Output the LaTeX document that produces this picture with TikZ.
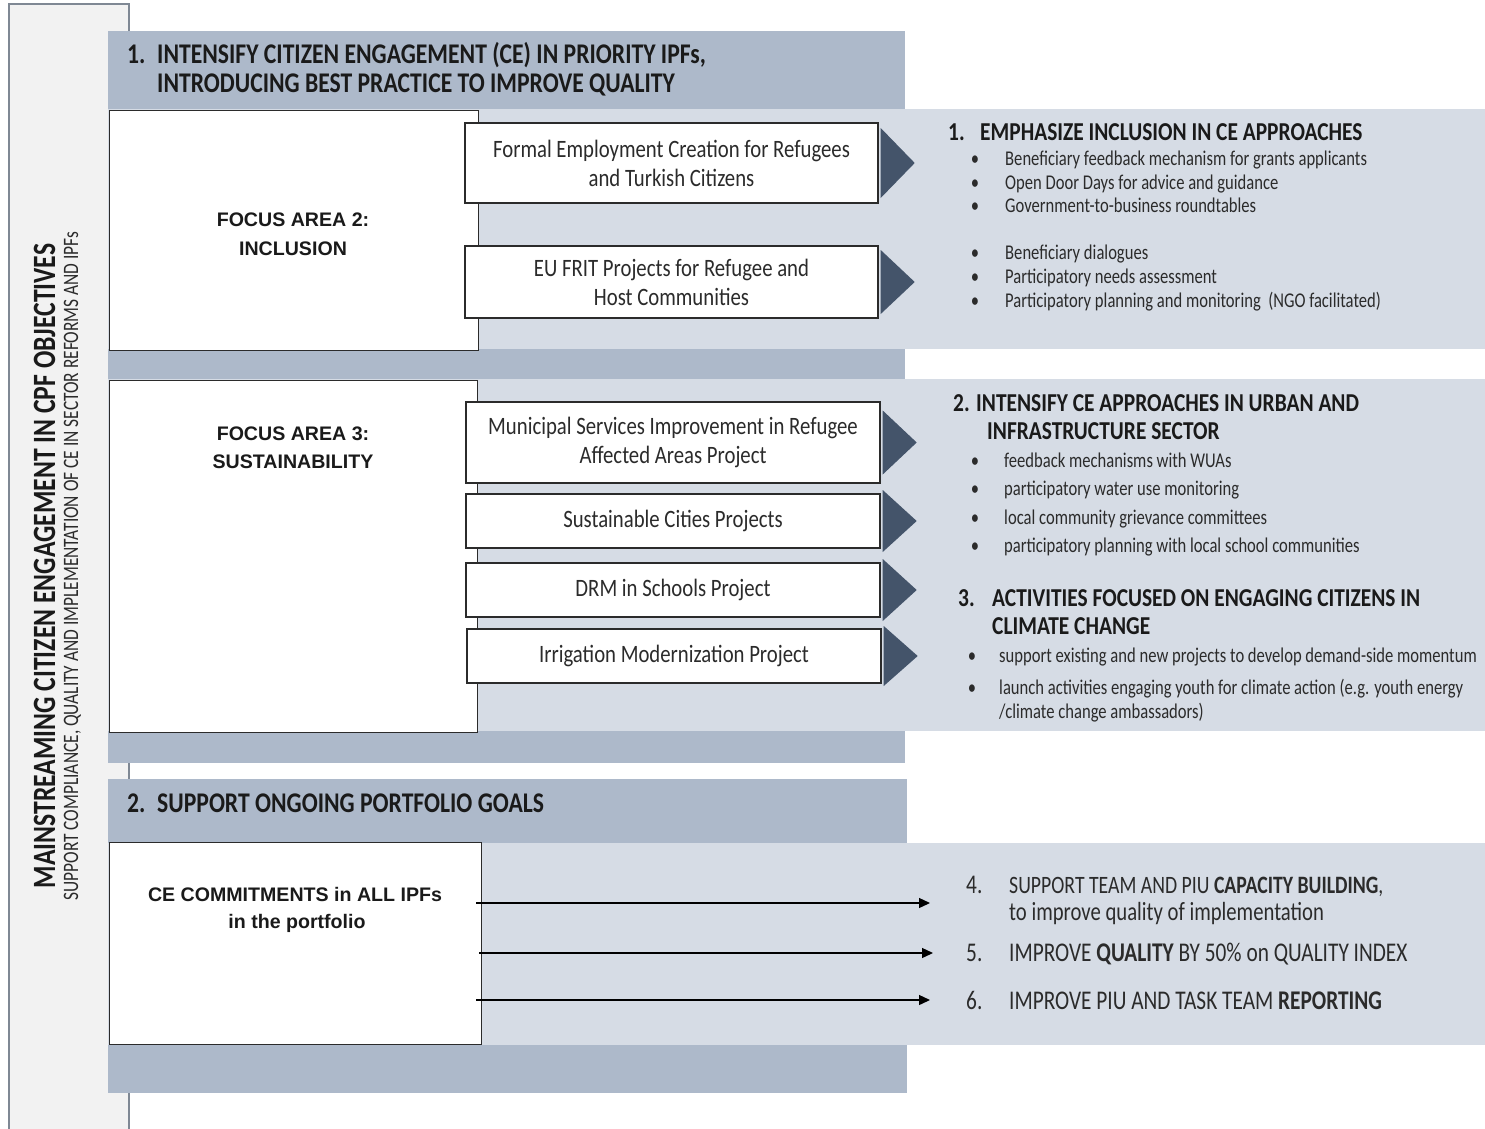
\documentclass[tikz,border=0pt]{standalone}
\usepackage{fontspec}
\usetikzlibrary{arrows.meta,calc}
\setmainfont{Carlito}
\newfontfamily\fA[FakeStretch=0.83]{Carlito}
\newfontfamily\fB[FakeStretch=0.79]{Carlito}
\newfontfamily\fAr{Liberation Sans}
\definecolor{dband}{HTML}{ADB9CA}
\definecolor{lband}{HTML}{D6DCE5}
\definecolor{tri}{HTML}{44546A}
\definecolor{barfill}{HTML}{F2F2F2}
\definecolor{barline}{HTML}{7F8894}
\definecolor{ink}{HTML}{1A1A1A}
\definecolor{ink2}{HTML}{2B2B2B}
\tikzset{
  hdr/.style={font=\fA\bfseries\fontsize{28.5}{29}\selectfont, text=ink, inner sep=0pt, anchor=base west},
  pbox/.style={draw=ink2, line width=1.4pt, fill=white, align=center, text=ink2,
    font=\fA\fontsize{25}{29}\selectfont, inner sep=0pt},
  wbox/.style={draw=ink2, line width=1.4pt, fill=white, inner sep=0pt, anchor=north west},
  fa/.style={font=\fAr\bfseries\fontsize{19.6}{28}\selectfont, text=ink, inner sep=0pt, anchor=base},
  rh/.style={font=\fA\bfseries\fontsize{25.8}{28}\selectfont, text=ink, inner sep=0pt, anchor=base west},
  bt/.style={font=\fB\fontsize{21}{24}\selectfont, text=ink2, inner sep=0pt, anchor=base west},
  bi/.style={font=\fB\fontsize{27}{27}\selectfont, text=ink2, inner sep=0pt, anchor=base west},
  vta/.style={font=\fB\bfseries\fontsize{32.5}{33}\selectfont, text=ink, inner sep=0pt, rotate=90, anchor=base},
  vtb/.style={font=\fB\fontsize{22}{22}\selectfont, text=ink2, inner sep=0pt, rotate=90, anchor=base},
  arr/.style={draw=black, line width=1.3pt, -{Triangle[length=11pt,width=10pt]}},
}
\newcommand\bitem[5]{%
  \node[bt,anchor=base] (#1d) at (#2,#4) {•};
  \node[bt] (#1) at (#3,#4) {#5};}
\newcommand\arrtri[2]{%
  \fill[tri] ($(#1.east)+(2,-#2)$) -- ($(#1.east)+(36,0)$) -- ($(#1.east)+(2,#2)$) -- cycle;}
\begin{document}
\begin{tikzpicture}[x=1pt,y=-1pt]
\useasboundingbox (0,0) rectangle (1485,1129);
% left bar
\draw[fill=barfill, draw=barline, line width=1.5pt] (9,4) rectangle (129,1135);
% bands and panels
\fill[dband] (108,31) rectangle (905,109);
\fill[lband] (108,109) rectangle (1485,349);
\fill[dband] (108,349) rectangle (905,379);
\fill[lband] (108,379) rectangle (1485,731);
\fill[dband] (108,731) rectangle (905,763);
\fill[dband] (108,779) rectangle (907,843);
\fill[lband] (108,843) rectangle (1485,1045);
\fill[dband] (108,1045) rectangle (907,1093);
% vertical titles
\node[vta] (vt1) at (55,566) {MAINSTREAMING CITIZEN ENGAGEMENT IN CPF OBJECTIVES};
\node[vtb] (vt2) at (78,566) {SUPPORT COMPLIANCE, QUALITY AND IMPLEMENTATION OF CE IN SECTOR REFORMS AND IPFs};
% headers
\node[hdr] (t1n) at (127,64) {1.};
\node[hdr] (t1a) at (157,64) {INTENSIFY CITIZEN ENGAGEMENT (CE) IN PRIORITY IPFs,};
\node[hdr] (t1b) at (157,93) {INTRODUCING BEST PRACTICE TO IMPROVE QUALITY};
\node[hdr] (t2n) at (127,812) {2.};
\node[hdr] (t2a) at (157,812) {SUPPORT ONGOING PORTFOLIO GOALS};
% white focus boxes
\node[wbox, minimum width=369, minimum height=240] (fa2) at (109,110) {};
\node[wbox, minimum width=368, minimum height=352] (fa3) at (109,380) {};
\node[wbox, minimum width=372, minimum height=202] (ce) at (109,842) {};
\node[fa] (fa2a) at (293,226) {FOCUS AREA 2:};
\node[fa] (fa2b) at (293,255) {INCLUSION};
\node[fa] (fa3a) at (293,440) {FOCUS AREA 3:};
\node[fa] (fa3b) at (293,468) {SUSTAINABILITY};
\node[fa] (cea) at (295,901) {CE COMMITMENTS in ALL IPFs};
\node[fa] (ceb) at (297,928) {in the portfolio};
% project boxes
\node[pbox, minimum width=413, minimum height=80] (p1) at (671.5,163) {Formal Employment Creation for Refugees\\and Turkish Citizens};
\node[pbox, minimum width=413, minimum height=72] (p2) at (671.5,282) {EU FRIT Projects for Refugee and\\Host Communities};
\node[pbox, minimum width=414, minimum height=81] (p3) at (673,442.5) {Municipal Services Improvement in Refugee\\Affected Areas Project};
\node[pbox, minimum width=414, minimum height=54] (p4) at (673,521) {Sustainable Cities Projects};
\node[pbox, minimum width=414, minimum height=54] (p5) at (673,590) {DRM in Schools Project};
\node[pbox, minimum width=414, minimum height=54] (p6) at (674,656) {Irrigation Modernization Project};
\arrtri{p1}{35}
\arrtri{p2}{32}
\arrtri{p3}{32}
\arrtri{p4}{31}
\arrtri{p5}{31}
\arrtri{p6}{30}
% section 1 texts
\node[rh] (h1n) at (948,141) {1.};
\node[rh] (h1) at (980,141) {EMPHASIZE INCLUSION IN CE APPROACHES};
\bitem{b11}{975}{1005}{165}{Beneficiary feedback mechanism for grants applicants}
\bitem{b12}{975}{1005}{189}{Open Door Days for advice and guidance}
\bitem{b13}{975}{1005}{212}{Government-to-business roundtables}
\bitem{b14}{975}{1005}{259}{Beneficiary dialogues}
\bitem{b15}{975}{1005}{283}{Participatory needs assessment}
\bitem{b16}{975}{1005}{307}{Participatory planning and monitoring~~(NGO facilitated)}
% section 2 texts
\node[rh] (h2) at (953,411) {2. INTENSIFY CE APPROACHES IN URBAN AND};
\node[rh] (h2b) at (987,439) {INFRASTRUCTURE SECTOR};
\bitem{b21}{975}{1004}{467}{feedback mechanisms with WUAs}
\bitem{b22}{975}{1004}{495}{participatory water use monitoring}
\bitem{b23}{975}{1004}{524}{local community grievance committees}
\bitem{b24}{975}{1004}{552}{participatory planning with local school communities}
\node[rh] (h3n) at (958,606) {3.};
\node[rh] (h3) at (992,606) {ACTIVITIES FOCUSED ON ENGAGING CITIZENS IN};
\node[rh] (h3b) at (992,634) {CLIMATE CHANGE};
\bitem{b31}{972}{999}{662}{support existing and new projects to develop demand-side momentum}
\bitem{b32}{972}{999}{694}{launch activities engaging youth for climate action (e.g. youth energy}
\node[bt] (b32b) at (999,718) {/climate change ambassadors)};
% bottom items
\node[bi] (n4) at (966,893) {4.};
\node[bi, font=\fB\fontsize{25}{27}\selectfont] (i4) at (1009,893) {SUPPORT TEAM AND PIU \textbf{CAPACITY BUILDING},};
\node[bi, font=\fB\fontsize{26.2}{27}\selectfont] (i4b) at (1009,920) {to improve quality of implementation};
\node[bi] (n5) at (966,961) {5.};
\node[bi] (i5) at (1009,961) {IMPROVE \textbf{QUALITY} BY 50\% on QUALITY INDEX};
\node[bi] (n6) at (966,1009) {6.};
\node[bi] (i6) at (1009,1009) {IMPROVE PIU AND TASK TEAM \textbf{REPORTING}};
\coordinate (e4) at (930,903);
\coordinate (e5) at (933,953);
\coordinate (e6) at (930,1000);
\draw[arr] ($(ce.east|-e4)+(-6,0)$) -- (e4);
\draw[arr] ($(ce.east|-e5)+(-3,0)$) -- (e5);
\draw[arr] ($(ce.east|-e6)+(-6,0)$) -- (e6);
\end{tikzpicture}
\end{document}
